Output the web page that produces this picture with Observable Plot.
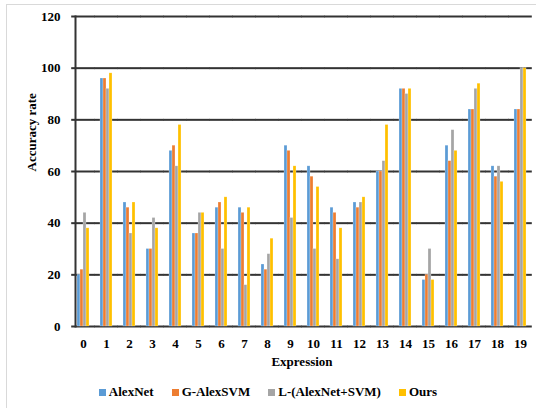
<!DOCTYPE html>
<html>
<head>
<meta charset="utf-8">
<script src="https://cdn.jsdelivr.net/npm/d3@7"></script>
<script src="https://cdn.jsdelivr.net/npm/@observablehq/plot@0.6"></script>
<style>
  body { margin: 0; background: #fff; font-family: "Times New Roman", "Liberation Serif", "DejaVu Serif", serif; }
  #wrap { position: relative; width: 536px; height: 408px; overflow: hidden; }
  #frame { position: absolute; left: 6px; top: 4px; width: 540px; height: 420px; border-left: 1px solid #d9d9d9; border-top: 1px solid #d9d9d9; }
  #chart { position: absolute; left: 0; top: 0; }
  #chart svg, #chart svg text { font-family: "Times New Roman", "Liberation Serif", "DejaVu Serif", serif !important; }
  #legend { position: absolute; left: 0; top: 384px; width: 536px; display: flex; justify-content: center; gap: 18px; font-weight: bold; font-size: 13px; color: #000; }
  #legend span.item { display: flex; align-items: center; gap: 3px; }
  #legend span.sw { width: 7px; height: 7px; display: inline-block; }
</style>
</head>
<body>
<div id="wrap">
  <div id="frame"></div>
  <div id="chart"></div>
  <div id="legend"></div>
</div>
<script>
const expressions = ["0","1","2","3","4","5","6","7","8","9","10","11","12","13","14","15","16","17","18","19"];
const seriesNames = ["AlexNet", "G-AlexSVM", "L-(AlexNet+SVM)", "Ours"];
const alexnet   = [20, 96, 48, 30, 68, 36, 46, 46, 24, 70, 62, 46, 48, 60, 92, 18, 70, 84, 62, 84];
const gAlexSVM  = [22, 96, 46, 30, 70, 36, 48, 44, 22, 68, 58, 44, 46, 60, 92, 20, 64, 84, 58, 84];
const lAlexSVM  = [44, 92, 36, 42, 62, 44, 30, 16, 28, 42, 30, 26, 48, 64, 90, 30, 76, 92, 62, 100];
const ours      = [38, 98, 48, 38, 78, 44, 50, 46, 34, 62, 54, 38, 50, 78, 92, 18, 68, 94, 56, 100];
const yTicks = [0, 20, 40, 60, 80, 100, 120];
const colors = ["#5B9BD5", "#ED7D31", "#A5A5A5", "#FFC000"];

const seriesValues = [alexnet, gAlexSVM, lAlexSVM, ours];
const data = expressions.flatMap((e, i) =>
  seriesNames.map((s, j) => ({expr: e, series: s, value: seriesValues[j][i]})));

const chart = Plot.plot({
  width: 536,
  height: 375,
  marginLeft: 70,
  marginRight: 4,
  marginTop: 16,
  marginBottom: 49,
  style: {fontFamily: "'Times New Roman', 'Liberation Serif', serif", fontWeight: "bold", fontSize: "13px", color: "#000", background: "transparent", overflow: "visible"},
  fx: {domain: expressions, paddingInner: 0.32, paddingOuter: 0.16, label: null},
  x: {domain: seriesNames, axis: null, padding: 0.06},
  y: {domain: [0, 120]},
  color: {domain: seriesNames, range: colors},
  marks: [
    Plot.ruleY(yTicks, {y: d => d, stroke: "#333", strokeWidth: 2, insetLeft: -3.8, insetRight: -3.8}),
    Plot.barY(data, {fx: "expr", x: "series", y: "value", fill: "series", stroke: "#fff", strokeOpacity: 0.5, strokeWidth: 0.5}),
    Plot.frame({facet: "super", anchor: "left", stroke: "#333", strokeWidth: 2}),
    Plot.axisY({ticks: yTicks, tickSize: 0, tickPadding: 15, label: null, anchor: "left"}),
    Plot.text(["Accuracy rate"], {frameAnchor: "left", dx: -44, rotate: -90, text: d => d, facet: "super"}),
    Plot.text(["Expression"], {frameAnchor: "bottom", dy: 39, text: d => d, facet: "super"}),
    Plot.axisFx({tickSize: 0, tickPadding: 12, label: null, anchor: "bottom"})
  ]
});
document.getElementById("chart").appendChild(chart);

const legend = document.getElementById("legend");
seriesNames.forEach((s, j) => {
  const item = document.createElement("span");
  item.className = "item";
  const sw = document.createElement("span");
  sw.className = "sw";
  sw.style.background = colors[j];
  const t = document.createElement("span");
  t.textContent = s;
  item.appendChild(sw);
  item.appendChild(t);
  legend.appendChild(item);
});
</script>
</body>
</html>
